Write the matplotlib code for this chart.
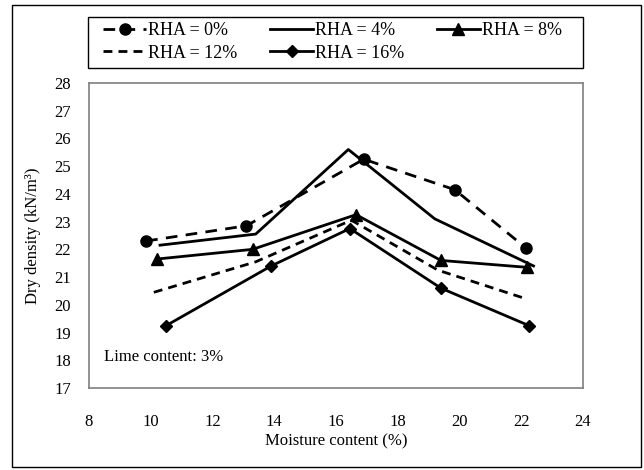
import matplotlib
matplotlib.use('Agg')
import matplotlib.pyplot as plt
from matplotlib.patches import Rectangle

plt.rcParams['font.family'] = ['Liberation Serif', 'DejaVu Serif']

# Moisture content (%) and dry density (kN/m3) for each RHA dosage, lime 3%
x_rha0 = [9.85, 13.1, 16.9, 19.85, 22.15]
y_rha0 = [22.3, 22.85, 25.25, 24.15, 22.05]
x_rha4 = [10.3, 13.4, 16.4, 19.2, 22.4]
y_rha4 = [22.15, 22.55, 25.6, 23.1, 21.4]
x_rha8 = [10.2, 13.3, 16.65, 19.4, 22.2]
y_rha8 = [21.65, 22.0, 23.25, 21.6, 21.35]
x_rha12 = [10.1, 13.4, 16.5, 19.3, 22.2]
y_rha12 = [20.45, 21.55, 23.05, 21.25, 20.2]
x_rha16 = [10.5, 13.9, 16.45, 19.4, 22.25]
y_rha16 = [19.25, 21.4, 22.75, 20.6, 19.25]

xticks = list(range(8, 25, 2))
yticks = list(range(17, 29))

fig = plt.figure(figsize=(6.44, 4.70), dpi=100)
ax = fig.add_axes([0.1382, 0.1745, 0.767, 0.649])

lw = 2.0
l0, = ax.plot(x_rha0, y_rha0, color='black', lw=lw, dashes=(4.2, 3.0),
              marker='o', ms=8, label='RHA = 0%')
l4, = ax.plot(x_rha4, y_rha4, color='black', lw=lw, label='RHA = 4%')
l8, = ax.plot(x_rha8, y_rha8, color='black', lw=lw, marker='^', ms=8,
              label='RHA = 8%')
l12, = ax.plot(x_rha12, y_rha12, color='black', lw=lw, dashes=(3.2, 2.2),
               label='RHA = 12%')
l16, = ax.plot(x_rha16, y_rha16, color='black', lw=lw, marker='D', ms=6,
               label='RHA = 16%')

ax.set_xlim(8, 24)
ax.set_ylim(17, 28)
ax.set_xticks(xticks)
ax.set_yticks(yticks)
ax.tick_params(length=0, labelsize=12)
ax.tick_params(axis='x', pad=19)
ax.tick_params(axis='y', pad=13)
for s in ax.spines.values():
    s.set_color('#7f7f7f')
    s.set_linewidth(1.2)

ax.set_xlabel('Moisture content (%)', fontsize=12)
ax.xaxis.set_label_coords(0.5, -0.15)
ax.set_ylabel('Dry density (kN/m³)', fontsize=12)
ax.yaxis.set_label_coords(-0.098, 0.5)

ax.text(8.5, 18.1, 'Lime content: 3%', fontsize=12, va='center')

# legend filled row by row: 0, 4, 8 on top, 12, 16 below
handles = [l0, l12, l4, l16, l8]
leg = fig.legend(handles=handles, labels=[h.get_label() for h in handles],
                 ncol=3, loc='upper left', borderaxespad=0, borderpad=0,
                 bbox_to_anchor=(0.16, 0.953),
                 fontsize=13, frameon=False,
                 handlelength=2.4, handletextpad=0.1,
                 labelspacing=0.3, columnspacing=1.8)

# legend box spans the plot width
fig.add_artist(Rectangle((0.1366, 0.8553), 0.7686, 0.1085, transform=fig.transFigure,
                         fill=False, edgecolor='black', lw=1.0))

# outer frame of the chart
fig.add_artist(Rectangle((0.0186, 0.006), 0.976, 0.983, transform=fig.transFigure,
                         fill=False, edgecolor='black', lw=1.0))

fig.savefig('out.png', dpi=100)
